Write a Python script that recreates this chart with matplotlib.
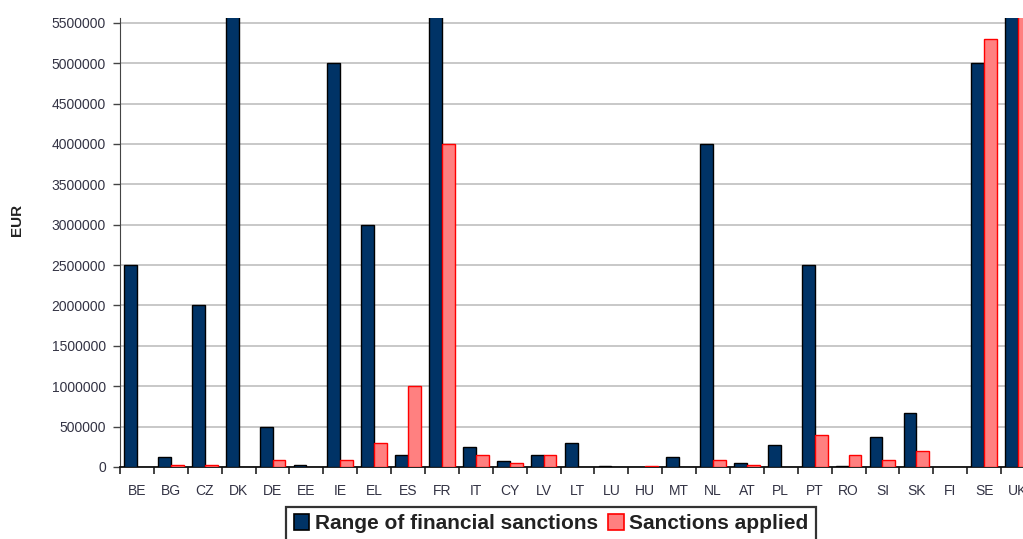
import numpy as np
import matplotlib
matplotlib.use("Agg")
import matplotlib.pyplot as plt
from matplotlib.patches import Patch
from matplotlib.ticker import MultipleLocator, FixedLocator

plt.rcParams['font.family'] = ['Liberation Sans', 'DejaVu Sans']

countries = ['BE', 'BG', 'CZ', 'DK', 'DE', 'EE', 'IE', 'EL', 'ES', 'FR', 'IT', 'CY', 'LV', 'LT',
             'LU', 'HU', 'MT', 'NL', 'AT', 'PL', 'PT', 'RO', 'SI', 'SK', 'FI', 'SE', 'UK']

# maximum fines foreseen (EUR); DK, FR and UK run off the top of the scale
sanction_range = [2500000, 120000, 2000000, 6000000, 500000, 25000, 5000000, 3000000, 150000,
                  6000000, 250000, 80000, 150000, 300000, 15000, 0, 120000, 4000000, 50000,
                  270000, 2500000, 15000, 370000, 670000, 0, 5000000, 6000000]

# fines actually imposed (EUR)
sanctions_applied = [0, 20000, 20000, 0, 90000, 0, 90000, 300000, 1000000, 4000000, 150000,
                     50000, 150000, 0, 0, 15000, 0, 90000, 25000, 0, 400000, 150000, 90000,
                     200000, 0, 5300000, 6000000]

labels = ['Range of financial sanctions', 'Sanctions applied']
navy = '#003366'
pink = '#ff8080'

fig = plt.figure(figsize=(10.23, 5.39), dpi=100)
ax = fig.add_axes([120 / 1023, 1 - 467 / 539, 915 / 1023, 449 / 539])

x = np.arange(len(countries))
w = 0.38
b1 = ax.bar(x - w / 2, sanction_range, w, color=navy, edgecolor='black', linewidth=1.0, zorder=3)
b2 = ax.bar(x + w / 2, sanctions_applied, w, color=pink, edgecolor='#ff0000', linewidth=1.0,
            zorder=3)

# empty entries get no outline stub on the baseline
for bars, vals in ((b1, sanction_range), (b2, sanctions_applied)):
    for patch, v in zip(bars, vals):
        if v == 0:
            patch.set_visible(False)

ax.set_xlim(-0.5, len(countries) - 0.5)
ax.set_ylim(0, 5560000)

ax.yaxis.set_major_locator(MultipleLocator(500000))
ax.yaxis.set_major_formatter(plt.FuncFormatter(lambda v, p: f'{int(v)}'))
ax.grid(axis='y', color='#c4c4c4', linewidth=1.3, zorder=0)

ax.set_xticks(x)
ax.set_xticklabels(countries)
ax.xaxis.set_minor_locator(FixedLocator(np.arange(-0.5, len(countries), 1.0)))
ax.tick_params(axis='x', which='major', length=0, pad=12, labelsize=10, labelcolor='#333344')
ax.tick_params(axis='x', which='minor', length=5, width=1.2, color='#222222')
ax.tick_params(axis='y', length=5, width=1.0, pad=5, labelsize=10, labelcolor='#333344',
               color='#444444')

for side in ('top', 'right'):
    ax.spines[side].set_visible(False)
ax.spines['left'].set_color('#444444')
ax.spines['bottom'].set_color('#111111')
ax.spines['bottom'].set_linewidth(1.3)

fig.text(17 / 1023, 1 - 220 / 539, 'EUR', rotation=90, ha='center', va='center',
         fontsize=11, fontweight='bold', color='#222222')

handles = [Patch(facecolor=navy, edgecolor='black', linewidth=1.2),
           Patch(facecolor=pink, edgecolor='#ff0000', linewidth=1.2)]
leg = fig.legend(handles, labels, loc='upper center', bbox_to_anchor=(551 / 1023, 1 - 507 / 539),
                 ncol=2, frameon=True, fancybox=False, prop={'weight': 'bold', 'size': 15},
                 handlelength=0.75, handleheight=0.75, handletextpad=0.25, columnspacing=0.5,
                 borderpad=0.35, borderaxespad=0, edgecolor='black')
leg.get_frame().set_linewidth(1.6)
for t in leg.get_texts():
    t.set_color('#222222')

fig.savefig('out.png', dpi=100)
